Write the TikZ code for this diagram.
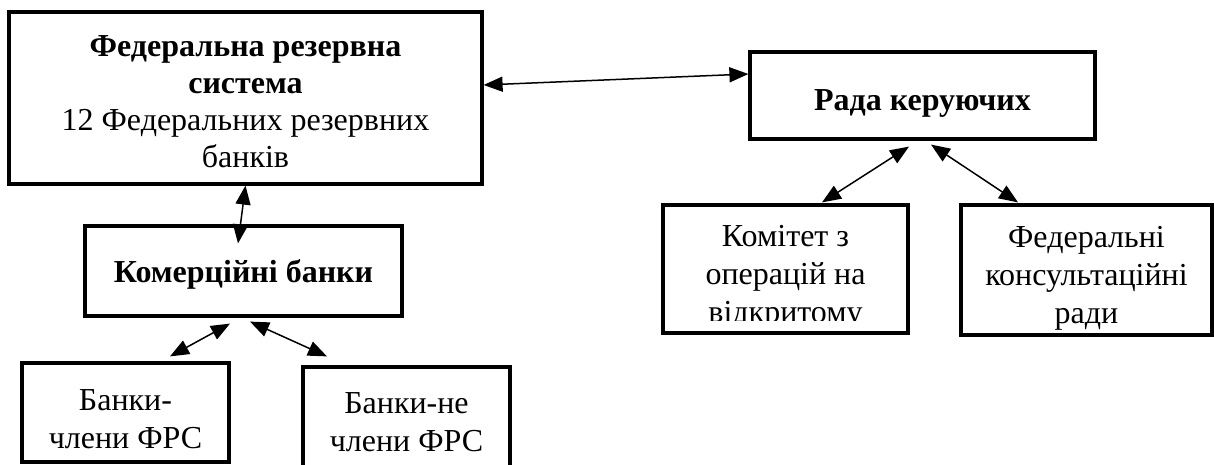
\documentclass[tikz,border=0pt]{standalone}
\usepackage{fontspec}
\setmainfont{Liberation Serif}
\usetikzlibrary{arrows.meta}
\begin{document}
\begin{tikzpicture}[x=1pt,y=-1pt,
  box/.style={draw, line width=3.2pt, inner sep=0pt},
  txt/.style={align=center, inner sep=0pt, font=\fontsize{32}{38}\selectfont},
  link/.style={line width=1.5pt, {Triangle[length=19pt,width=15pt]}-{Triangle[length=19pt,width=15pt]}}
]
\useasboundingbox (0,0) rectangle (1214,465);
\clip (0,0) rectangle (1214,465);
% boxes
\node[box, minimum width=473pt, minimum height=172pt] (frs) at (245.5,98) {};
\node[box, minimum width=345pt, minimum height=87pt] (rada) at (922.5,95.5) {};
\node[box, minimum width=317pt, minimum height=90pt] (kom) at (243.5,271) {};
\node[box, minimum width=245pt, minimum height=128pt] (ofk) at (785.5,269) {};
\node[box, minimum width=251pt, minimum height=130pt] (fcr) at (1086.5,270) {};
\node[box, minimum width=207pt, minimum height=99pt] (bfrs) at (125.5,412.5) {};
\node[box, minimum width=207pt, minimum height=130pt] (bnfrs) at (406.5,432) {};
% texts
\node[txt, font=\fontsize{32}{37}\selectfont] (frs-t) at (245.5,102) {\textbf{Федеральна резервна}\\\textbf{система}\\12 Федеральних резервних\\банків};
\node[txt] (rada-t) at (922.5,103) {\textbf{Рада керуючих}};
\node[txt] (kom-t) at (243.5,274) {\textbf{Комерційні банки}};
\begin{scope}
\clip (663,205) rectangle (908,320);
\node[txt] (ofk-t) at (785.5,277) {Комітет з\\операцій на\\відкритому};
\end{scope}
\node[txt] (fcr-t) at (1086.5,278) {Федеральні\\консультаційні\\ради};
\node[txt] (bfrs-t) at (125.5,419) {Банки-\\члени ФРС};
\node[txt] (bnfrs-t) at (406.5,422) {Банки-не\\члени ФРС};
% connectors
\draw[link] ([yshift=13pt]frs.east) -- ([yshift=21.5pt]rada.west);
\draw[link] (frs.south) -- ([xshift=-5.5pt,yshift=-19pt]kom.north);
\draw[link] ([xshift=-13.5pt,yshift=-6pt]kom.south) -- ([xshift=44.5pt,yshift=5pt]bfrs.north);
\draw[link] ([xshift=6.5pt,yshift=-4pt]kom.south) -- ([xshift=-79.5pt,yshift=9pt]bnfrs.north);
\draw[link] ([xshift=-13.5pt,yshift=-6pt]rada.south) -- ([xshift=36.5pt,yshift=1pt]ofk.north);
\draw[link] ([xshift=8.5pt,yshift=-4pt]rada.south) -- ([xshift=-68.5pt,yshift=1pt]fcr.north);
\end{tikzpicture}
\end{document}
